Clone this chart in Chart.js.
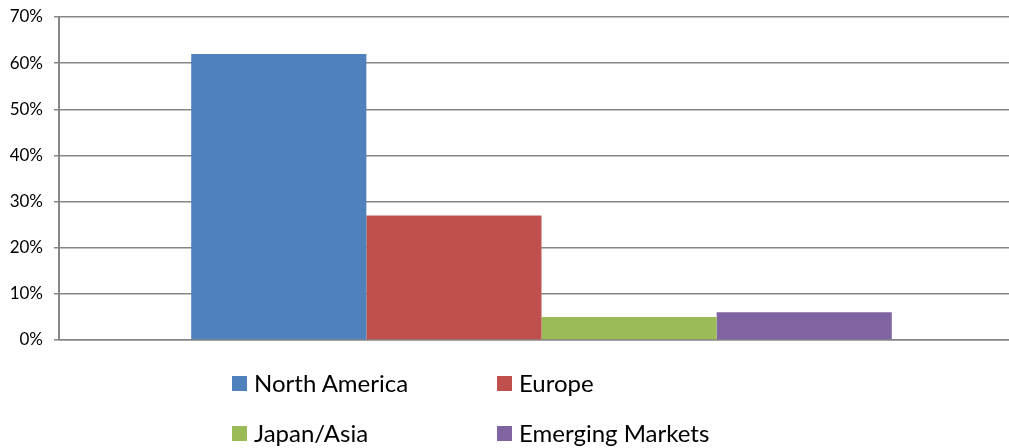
<!DOCTYPE html>
<html>
<head>
<meta charset="utf-8">
<script src="https://cdn.jsdelivr.net/npm/chart.js@4/dist/chart.umd.min.js"></script>
<style>
  html, body { margin: 0; padding: 0; background: #fff; overflow: hidden; width: 1009px; height: 448px; }
  #wrap { position: absolute; left: 0; top: 0; width: 1024px; height: 448px; }
  #legend { position: absolute; left: 0; top: 0; width: 1009px; height: 448px; pointer-events: none;
            font-family: Lato, "Liberation Sans", sans-serif; font-size: 24px; color: #000; }
  .item { position: absolute; display: flex; align-items: center; white-space: nowrap; height: 30px; }
  .box { width: 15px; height: 15px; margin-right: 7px; margin-top: 3px; }
</style>
</head>
<body>
<div id="wrap"><canvas id="c" width="1024" height="448"></canvas></div>
<div id="legend"></div>
<script>
const categories = [""];
const seriesNames = ["North America", "Europe", "Japan/Asia", "Emerging Markets"];
const seriesValues = [[62], [27], [5], [6]];
const seriesColors = ["#4F81BD", "#C0504D", "#9BBB59", "#8064A2"];
const yTicks = [0, 10, 20, 30, 40, 50, 60, 70];

const datasets = seriesNames.map((n, i) => ({
  label: n,
  data: seriesValues[i],
  backgroundColor: seriesColors[i],
  borderWidth: 0,
  categoryPercentage: 0.726,
  barPercentage: 1.0
}));

new Chart(document.getElementById('c'), {
  type: 'bar',
  data: { labels: categories, datasets },
  options: {
    responsive: false,
    animation: false,
    events: [],
    layout: { padding: { top: 17, left: 0, right: 0, bottom: 100 } },
    plugins: { legend: { display: false }, tooltip: { enabled: false } },
    scales: {
      x: {
        grid: { display: false },
        ticks: { display: false },
        border: { display: true, color: '#868686', width: 1.5 }
      },
      y: {
        min: 0, max: 70,
        afterFit: (s) => { s.width = 59; s.paddingTop = 0; },
        afterBuildTicks: (s) => { s.ticks = yTicks.map(v => ({ value: v })); },
        ticks: {
          padding: 11,
          color: '#000',
          font: { family: 'Lato, "Liberation Sans", sans-serif', size: 17 },
          callback: (v) => v + '%'
        },
        grid: { color: '#868686', lineWidth: 1.5, tickLength: 5, drawTicks: true },
        border: { display: true, color: '#868686', width: 2 }
      }
    }
  }
});

const legendPos = [[232, 367], [497, 367], [232, 417], [497, 417]];
const lg = document.getElementById('legend');
seriesNames.forEach((n, i) => {
  const d = document.createElement('div');
  d.className = 'item';
  d.style.left = legendPos[i][0] + 'px';
  d.style.top = legendPos[i][1] + 'px';
  const b = document.createElement('span');
  b.className = 'box';
  b.style.background = seriesColors[i];
  const t = document.createElement('span');
  t.textContent = n;
  d.appendChild(b); d.appendChild(t);
  lg.appendChild(d);
});
</script>
</body>
</html>
